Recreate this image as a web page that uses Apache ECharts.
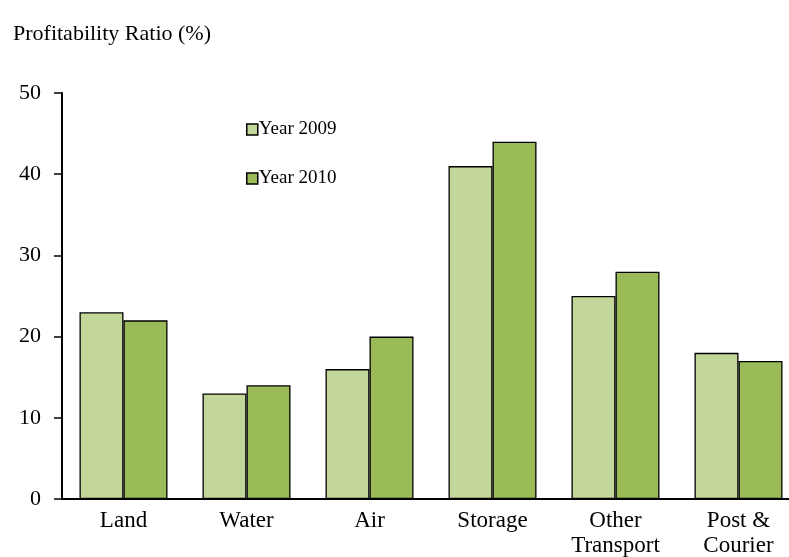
<!DOCTYPE html>
<html>
<head>
<meta charset="utf-8">
<script src="https://cdn.jsdelivr.net/npm/echarts@6/dist/echarts.min.js"></script>
<style>
html,body{margin:0;padding:0;background:#fff;overflow:hidden;}
#chart{width:789px;height:557px;}
</style>
</head>
<body>
<div id="chart"></div>
<script>
// Profitability ratio by transport sub-sector
const categories = ['Land', 'Water', 'Air', 'Storage', 'Other\nTransport', 'Post &\nCourier'];
const year2009 = [23, 13, 16, 41, 25, 18];
const year2010 = [22, 14, 20, 44, 28, 17];
const seriesNames = ['Year 2009', 'Year 2010'];
const yTicks = [0, 10, 20, 30, 40, 50];

const serif = '"Liberation Serif", "DejaVu Serif", serif';
const chart = echarts.init(document.getElementById('chart'));
chart.setOption({
  animation: false,
  title: {
    text: 'Profitability Ratio (%)',
    left: 8, top: 18,
    textStyle: { fontFamily: serif, fontSize: 22, fontWeight: 'normal', color: '#000' }
  },
  legend: {
    orient: 'vertical',
    left: 241, top: 115,
    itemWidth: 11, itemHeight: 11,
    itemGap: 30,
    icon: 'rect',
    data: seriesNames,
    itemStyle: { borderColor: '#000', borderWidth: 1.5 },
    textStyle: { fontFamily: serif, fontSize: 19, color: '#000', padding: [0, 0, 0, -4] }
  },
  grid: { left: 62, top: 93, width: 738, height: 406, containLabel: false, outerBoundsMode: 'none' },
  xAxis: {
    type: 'category',
    data: categories,
    axisLine: { lineStyle: { color: '#000', width: 2 } },
    axisTick: { show: false },
    axisLabel: { fontFamily: serif, fontSize: 23, color: '#000', margin: 9, lineHeight: 25 }
  },
  yAxis: {
    type: 'value',
    min: yTicks[0], max: yTicks[yTicks.length - 1], interval: 10,
    axisLine: { show: true, lineStyle: { color: '#000', width: 2 } },
    axisTick: { show: true, length: 8, lineStyle: { color: '#000', width: 1.5 } },
    splitLine: { show: false },
    axisLabel: { fontFamily: serif, fontSize: 22, color: '#000', margin: 21, padding: [3, 0, 0, 0] }
  },
  series: [
    {
      name: seriesNames[0], type: 'bar', data: year2009,
      barWidth: 44, barGap: '0%',
      itemStyle: { color: '#C4D79B', borderColor: '#000', borderWidth: 1.3 }
    },
    {
      name: seriesNames[1], type: 'bar', data: year2010,
      barWidth: 44,
      itemStyle: { color: '#9BBB59', borderColor: '#000', borderWidth: 1.3 }
    }
  ]
});
</script>
</body>
</html>
